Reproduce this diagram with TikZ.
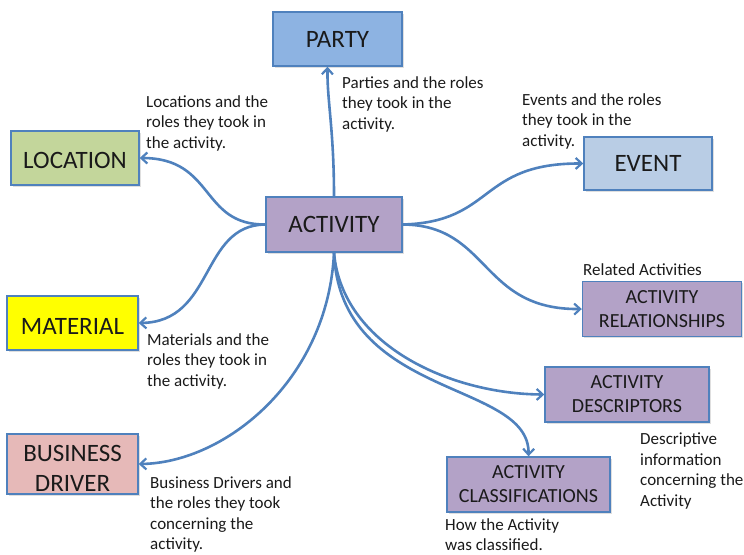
\documentclass[tikz,border=0pt]{standalone}
\usepackage{fontspec}
\setmainfont{Carlito}
\usetikzlibrary{arrows.meta,shadows,calc}
\definecolor{edgeblue}{HTML}{4F81BD}
\definecolor{partyfill}{HTML}{8DB3E2}
\definecolor{eventfill}{HTML}{B9CDE5}
\definecolor{locfill}{HTML}{C3D69B}
\definecolor{actfill}{HTML}{B3A2C7}
\definecolor{bizfill}{HTML}{E6B9B8}
\definecolor{matfill}{HTML}{FFFF00}
\definecolor{txt}{HTML}{1A1A1A}
% lower a label inside its box without changing the box's own extents
\newcommand{\lowerlabel}[2]{\raisebox{-#1}[\height][\depth]{#2}}
\tikzset{
  entity/.style={draw=edgeblue, line width=1.4pt, inner sep=0pt, align=center,
    text=txt, drop shadow={shadow xshift=1.5pt, shadow yshift=-1.5pt, opacity=0.25}},
  bigbox/.style={entity, font=\fontsize{25}{30}\selectfont},
  smallbox/.style={entity, font=\fontsize{20}{24}\selectfont},
  note/.style={anchor=north west, align=left, inner sep=0pt, text=txt,
    font=\fontsize{17}{20.5}\selectfont},
  link/.style={draw=edgeblue, line width=2.6pt,
    -{Straight Barb[length=6pt, width=11pt, line width=2.2pt]}}
}
\begin{document}
\begin{tikzpicture}[x=1pt, y=-1pt]
\useasboundingbox (0,0) rectangle (744,554);

% entity boxes
\node[bigbox, fill=partyfill, minimum width=129pt, minimum height=54pt] (party) at (337.5,39) {PARTY};
\node[bigbox, fill=locfill, minimum width=128pt, minimum height=54pt] (loc) at (75,158) {\lowerlabel{2pt}{LOCATION}};
\node[bigbox, fill=eventfill, minimum width=128pt, minimum height=53pt] (event) at (648,163.5) {EVENT};
\node[bigbox, fill=actfill, minimum width=136pt, minimum height=55pt] (act) at (334,224.5) {ACTIVITY};
\node[bigbox, fill=matfill, minimum width=131pt, minimum height=54pt] (mat) at (72.5,323) {\lowerlabel{3pt}{MATERIAL}};
\node[bigbox, fill=bizfill, minimum width=131pt, minimum height=56pt] (biz) at (72.5,464)
  {\lowerlabel{6pt}{\begin{tabular}{@{}c@{}}BUSINESS\\DRIVER\end{tabular}}};
\node[smallbox, fill=actfill, minimum width=159pt, minimum height=55pt] (rel) at (662,309) {ACTIVITY\\RELATIONSHIPS};
\node[smallbox, fill=actfill, minimum width=164pt, minimum height=55pt] (desc) at (627,394.5) {ACTIVITY\\DESCRIPTORS};
\node[smallbox, fill=actfill, minimum width=163pt, minimum height=55pt] (cls) at (528.5,484.5) {ACTIVITY\\CLASSIFICATIONS};

% connectors from the activity
\draw[link] (act.north) .. controls (334,130) and (327,100) .. ([xshift=-10pt]party.south);
\draw[link] (act.west) .. controls (200,225) and (215,158) .. (loc.east);
\draw[link] (act.west) .. controls (200,225) and (215,322) .. (mat.east);
\draw[link] (act.south) .. controls (328,380) and (225,463) .. (biz.east);
\draw[link] (act.east) .. controls (495,222) and (478,163) .. (event.west);
\draw[link] (act.east) .. controls (490,225) and (480,310) .. (rel.west);
\draw[link] (act.south) .. controls (342,345) and (450,394) .. (desc.west);
\draw[link] (act.south) .. controls (340,400) and (530,380) .. (cls.north);

% role notes
\node[note] (nloc) at (146,95) {Locations and the\\roles they took in\\the activity.};
\node[note] (nparty) at (342,76) {Parties and the roles\\they took in the\\activity.};
\node[note] (nevent) at (522,93) {Events and the roles\\they took in the\\activity.};
\node[note] (nrel) at (583,263) {Related Activities};
\node[note] (nmat) at (147,333) {Materials and the\\roles they took in\\the activity.};
\node[note] (nbiz) at (150,476) {Business Drivers and\\the roles they took\\concerning the\\activity.};
\node[note] (ndesc) at (640,433) {Descriptive\\information\\concerning the\\Activity};
\node[note] (ncls) at (445,518) {How the Activity\\was classified.};
\end{tikzpicture}
\end{document}
